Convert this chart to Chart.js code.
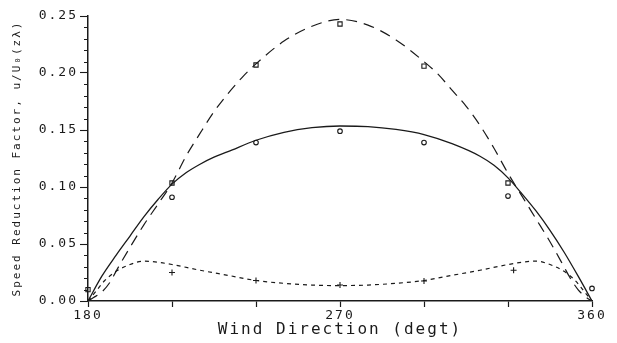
<!DOCTYPE html>
<html>
<head>
<meta charset="utf-8">
<script src="https://cdn.jsdelivr.net/npm/chart.js@4/dist/chart.umd.min.js"></script>
<style>
  html, body { margin: 0; padding: 0; background: #fff; }
  #wrap { width: 617px; height: 343px; }
</style>
</head>
<body>
<div id="wrap"><canvas id="speed-chart"></canvas></div>
<script>
// fitted curves (wind direction in degrees, speed reduction factor)
var dashedDirs = [180, 182, 185, 188, 190, 195, 200, 205, 210, 215, 220, 225, 230, 235, 240, 250, 260, 270,
                  280, 290, 300, 305, 310, 315, 320, 325, 330, 335, 340, 345, 350, 352, 355, 358, 360];
var dashedVals = [0, 0.003, 0.008, 0.017, 0.026, 0.047, 0.067, 0.085, 0.1035, 0.127, 0.147, 0.166, 0.182, 0.196, 0.208, 0.228, 0.241, 0.247,
                  0.242, 0.229, 0.210, 0.199, 0.185, 0.171, 0.154, 0.134, 0.112, 0.092, 0.072, 0.052, 0.030, 0.021, 0.010, 0.003, 0];

var solidDirs = [180, 185, 190, 195, 200, 205, 210, 215, 220, 225, 230, 240, 250, 260, 270,
                 280, 290, 300, 310, 320, 325, 330, 335, 340, 345, 350, 355, 360];
var solidVals = [0, 0.022, 0.040, 0.057, 0.074, 0.089, 0.1025, 0.1125, 0.120, 0.1262, 0.131, 0.141, 0.148, 0.152, 0.1535,
                 0.153, 0.1505, 0.146, 0.138, 0.127, 0.119, 0.108, 0.094, 0.079, 0.062, 0.043, 0.022, 0];

var dottedDirs = [180, 183, 186, 190, 195, 200, 205, 210, 220, 230, 240, 250, 260, 270,
                  280, 290, 300, 310, 320, 330, 335, 340, 345, 350, 354, 357, 360];
var dottedVals = [0, 0.009, 0.018, 0.026, 0.032, 0.035, 0.034, 0.032, 0.027, 0.0225, 0.018, 0.0155, 0.014, 0.0135,
                  0.014, 0.0155, 0.018, 0.0225, 0.027, 0.032, 0.034, 0.035, 0.032, 0.026, 0.018, 0.009, 0];

// measured points
var squareDirs = [180, 210, 240, 270, 300, 330];
var squareVals = [0.010, 0.1035, 0.207, 0.243, 0.206, 0.1035];
var circleDirs = [210, 240, 270, 300, 330, 360];
var circleVals = [0.091, 0.139, 0.149, 0.139, 0.092, 0.011];
var plusDirs = [210, 240, 270, 300, 332];
var plusVals = [0.025, 0.018, 0.014, 0.0175, 0.027];

var xTickLabels = [180, 270, 360];
var yTickLabels = [0, 0.05, 0.10, 0.15, 0.20, 0.25];
var yMinorStep = 0.01;

function toPoints(xs, ys){
  return xs.map(function(x, i){ return {x: x, y: ys[i]}; });
}

var ink = '#1a1a1a';

function curve(xs, ys, dash, width){
  return {
    data: toPoints(xs, ys),
    showLine: true,
    borderColor: ink,
    borderWidth: width,
    borderDash: dash,
    pointRadius: 0,
    cubicInterpolationMode: 'monotone',
    fill: false
  };
}

function markers(xs, ys, style, r){
  return {
    data: toPoints(xs, ys),
    showLine: false,
    clip: false,
    pointStyle: style,
    pointRadius: r,
    pointBorderColor: ink,
    pointBackgroundColor: 'rgba(0,0,0,0)',
    pointBorderWidth: 1.1
  };
}

var spacingPlugin = {
  id: 'spacing',
  beforeLayout: function(chart){ chart.ctx.letterSpacing = '2px'; },
  beforeDraw: function(chart){ chart.ctx.letterSpacing = '2px'; }
};

// short ticks between the labelled ones on the y axis
var minorTicks = {
  id: 'minorTicks',
  afterDraw: function(chart){
    var y = chart.scales.y, c = chart.ctx, left = chart.chartArea.left;
    c.save();
    c.strokeStyle = ink;
    c.lineWidth = 1.1;
    c.beginPath();
    for (var k = 1; k * yMinorStep < y.max; k++) {
      if (k % 5 === 0) continue;
      var py = Math.round(y.getPixelForValue(k * yMinorStep)) + 0.5;
      c.moveTo(left - 4, py);
      c.lineTo(left, py);
    }
    c.stroke();
    c.restore();
  }
};

var monoFont = '"DejaVu Sans Mono", monospace';

var chartConfig = {
  type: 'scatter',
  data: {
    datasets: [
      curve(dashedDirs, dashedVals, [11, 7], 1.2),
      curve(solidDirs, solidVals, [], 1.3),
      curve(dottedDirs, dottedVals, [4, 4], 1.2),
      markers(squareDirs, squareVals, 'rect', 3),
      markers(circleDirs, circleVals, 'circle', 2.3),
      markers(plusDirs, plusVals, 'cross', 3)
    ]
  },
  options: {
    responsive: true,
    maintainAspectRatio: false,
    animation: false,
    layout: { padding: { top: 16, right: 25, left: 0, bottom: 0 } },
    plugins: {
      legend: { display: false },
      tooltip: { enabled: false }
    },
    scales: {
      x: {
        type: 'linear',
        min: 180,
        max: 360,
        afterFit: function(s){ s.height = 42; },
        border: { display: true, color: ink, width: 1.5 },
        grid: { drawOnChartArea: false, color: ink, tickLength: 6, tickWidth: 1.2 },
        ticks: {
          stepSize: 30,
          autoSkip: false,
          maxRotation: 0,
          color: ink,
          padding: 1,
          font: { family: monoFont, size: 13 },
          callback: function(v){ return xTickLabels.indexOf(v) >= 0 ? String(v) : ''; }
        },
        title: {
          display: true,
          text: 'Wind Direction (degt)',
          color: ink,
          padding: { top: 0, bottom: 4 },
          font: { family: monoFont, size: 16 }
        }
      },
      y: {
        type: 'linear',
        min: 0,
        max: 0.25,
        afterFit: function(s){ s.width = 88; },
        border: { display: true, color: ink, width: 1.5 },
        grid: { drawOnChartArea: false, color: ink, tickLength: 8, tickWidth: 1.1 },
        ticks: {
          stepSize: 0.05,
          autoSkip: false,
          color: ink,
          padding: 2,
          font: { family: monoFont, size: 13 },
          callback: function(v){ return v.toFixed(2); }
        },
        title: {
          display: true,
          text: 'Speed Reduction Factor, u/U\u2080(z\u03bb)',
          color: ink,
          padding: { top: 11, bottom: 0 },
          font: { family: monoFont, size: 11 }
        }
      }
    }
  },
  plugins: [spacingPlugin, minorTicks]
};

var ctx = document.getElementById('speed-chart').getContext('2d');
window.speedChart = new Chart(ctx, chartConfig);
</script>
</body>
</html>
